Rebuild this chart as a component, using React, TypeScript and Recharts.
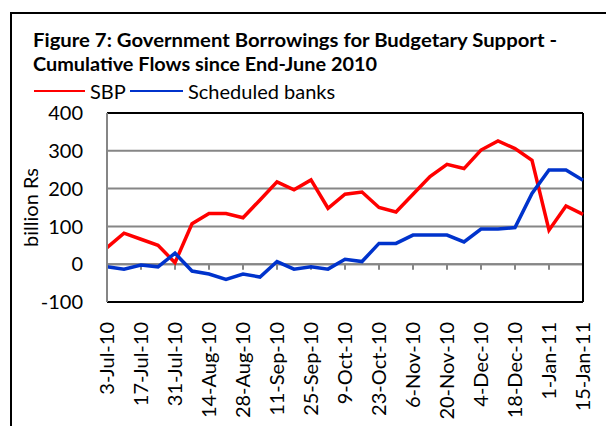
import React from "react";
import { LineChart, Line, XAxis, YAxis, CartesianGrid, ReferenceLine } from "recharts";

const weeks = [
  "3-Jul-10", "10-Jul-10", "17-Jul-10", "24-Jul-10", "31-Jul-10",
  "7-Aug-10", "14-Aug-10", "21-Aug-10", "28-Aug-10",
  "4-Sep-10", "11-Sep-10", "18-Sep-10", "25-Sep-10",
  "2-Oct-10", "9-Oct-10", "16-Oct-10", "23-Oct-10", "30-Oct-10",
  "6-Nov-10", "13-Nov-10", "20-Nov-10", "27-Nov-10",
  "4-Dec-10", "11-Dec-10", "18-Dec-10", "25-Dec-10",
  "1-Jan-11", "8-Jan-11", "15-Jan-11",
];

const sbp = [44, 82, 66, 50, 4, 107, 134, 134, 123, 170, 218, 197, 223, 148, 185, 191, 150, 138, 185, 232, 264, 253, 302, 326, 306, 275, 90, 154, 132];
const scheduledBanks = [-7, -13, -2, -7, 29, -18, -26, -40, -26, -34, 7, -13, -7, -13, 13, 7, 55, 55, 77, 77, 77, 59, 93, 93, 97, 187, 249, 249, 222];

const yTicks = [-100, 0, 100, 200, 300, 400];

const data = weeks.map((week, i) => ({ week, sbp: sbp[i], banks: scheduledBanks[i] }));

// small tick marks hanging under the zero line, every second week
const tickWeeks = weeks.filter((_, i) => i > 0 && i % 2 === 0);

const FONT = "Lato, 'Open Sans', sans-serif";

function DateTick({ x, y, payload }: any) {
  return (
    <text
      x={x}
      y={y}
      transform={`rotate(-90, ${x}, ${y})`}
      textAnchor="end"
      dy="0.35em"
      fontSize={20}
      fontFamily={FONT}
      fill="#000"
    >
      {payload.value}
    </text>
  );
}

export default function App() {
  return (
    <div
      style={{
        position: "absolute",
        left: 0,
        top: 0,
        width: 606,
        height: 426,
        overflow: "hidden",
        background: "#fff",
        fontFamily: FONT,
      }}
    >
      <div
        style={{
          position: "absolute",
          left: 10,
          top: 12,
          width: 700,
          height: 500,
          border: "2px solid #000",
        }}
      />
      <svg width={606} height={110} style={{ position: "absolute", left: 0, top: 0 }}>
        <text x={33} y={46.5} fontSize={19} fontWeight="bold" fill="#000" textLength={524} lengthAdjust="spacingAndGlyphs">
          Figure 7: Government Borrowings for Budgetary  Support -
        </text>
        <text x={33} y={71} fontSize={19} fontWeight="bold" fill="#000" textLength={344} lengthAdjust="spacingAndGlyphs">
          Cumulative Flows since End-June 2010
        </text>
        <line x1={34} x2={85} y1={91} y2={91} stroke="#ff0000" strokeWidth={2} />
        <text x={90} y={99} fontSize={20} fill="#000">SBP</text>
        <line x1={130} x2={183} y1={91} y2={91} stroke="#0033cc" strokeWidth={2} />
        <text x={188} y={99} fontSize={20} fill="#000">Scheduled banks</text>
      </svg>
      <div style={{ position: "absolute", left: 0, top: 0 }}>
        <LineChart width={606} height={426} data={data} margin={{ top: 113, right: 23, bottom: 0, left: 0 }}>
          <CartesianGrid vertical={false} stroke="#868686" strokeWidth={2} />
          <XAxis
            dataKey="week"
            interval={1}
            height={124}
            tick={<DateTick />}
            tickLine={false}
            tickSize={0}
            tickMargin={20}
            axisLine={{ stroke: "#000", strokeWidth: 2 }}
          />
          <YAxis
            domain={[-100, 400]}
            ticks={yTicks}
            width={107}
            tickLine={false}
            tickSize={0}
            tickMargin={24}
            axisLine={{ stroke: "#868686", strokeWidth: 2 }}
            tick={{ fontSize: 20, fill: "#000", fontFamily: FONT }}
            label={{
              value: "billion Rs",
              angle: -90,
              position: "insideLeft",
              offset: 31,
              style: { textAnchor: "middle", fontSize: 20, fill: "#000", fontFamily: FONT },
            }}
          />
          <ReferenceLine y={0} stroke="#868686" strokeWidth={2} />
          {tickWeeks.map((w) => (
            <ReferenceLine
              key={w}
              segment={[{ x: w, y: 0 }, { x: w, y: -15 }]}
              stroke="#868686"
              strokeWidth={2}
            />
          ))}
          <ReferenceLine y={400} stroke="#000" strokeWidth={2} />
          <ReferenceLine x={weeks[weeks.length - 1]} stroke="#000" strokeWidth={2} />
          <Line
            type="linear"
            dataKey="sbp"
            stroke="#ff0000"
            strokeWidth={3.5}
            dot={false}
            isAnimationActive={false}
          />
          <Line
            type="linear"
            dataKey="banks"
            stroke="#0033cc"
            strokeWidth={3.5}
            dot={false}
            isAnimationActive={false}
          />
        </LineChart>
      </div>
    </div>
  );
}
